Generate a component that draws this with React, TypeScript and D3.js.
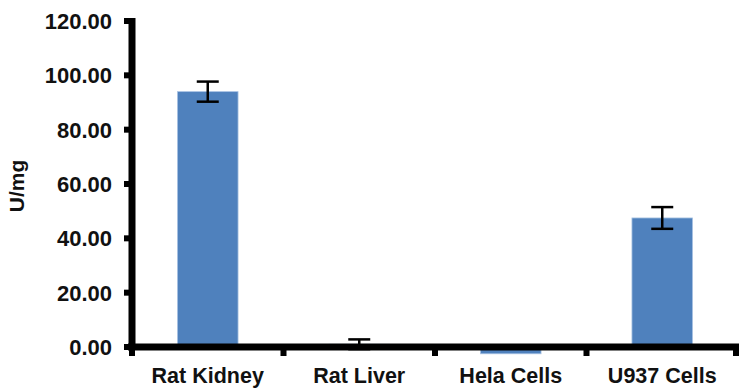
import React from "react";
import { scaleBand, scaleLinear } from "d3";

// values
const categories = ["Rat Kidney", "Rat Liver", "Hela Cells", "U937 Cells"];
const values = [94.0, 1.0, -2.5, 47.5];
const errors = [3.7, 1.8, 0, 4.0];
const yTicks = [0, 20, 40, 60, 80, 100, 120];

const width = 739;
const height = 390;
const margins = { top: 21, right: 1, bottom: 43, left: 132 };
const axisW = 7;

const App = () => {
    const innerBottom = height - margins.bottom;

    const x = scaleBand<string>()
        .domain(categories)
        .range([margins.left, width - margins.right])
        .paddingInner(0.6)
        .paddingOuter(0.3);

    const y = scaleLinear()
        .domain([0, 120])
        .range([innerBottom, margins.top]);

    const gap = (x.step() - x.bandwidth()) / 2;
    const boundaries = categories.map(c => (x(c) as number) - gap);
    boundaries.push((x(categories[categories.length - 1]) as number) + x.bandwidth() + gap);

    const font = "'Liberation Sans', Arial, sans-serif";

    return (
        <svg width={width} height={height} style={{ position: "absolute", left: 0, top: 0 }}>
            <rect width={width} height={height} fill="white" />

            {/* bars */}
            {categories.map((c, i) => {
                const v = values[i];
                const y0 = y(Math.max(0, v));
                const y1 = y(Math.min(0, v));
                return (
                    <rect key={c}
                          x={x(c)}
                          y={y0}
                          width={x.bandwidth()}
                          height={y1 - y0}
                          fill="#4f81bd"
                          stroke="#a9c3e3"
                          strokeWidth={0.8} />
                );
            })}

            {/* error bars */}
            {categories.map((c, i) => {
                if (!errors[i]) return null;
                const cx = (x(c) as number) + x.bandwidth() / 2;
                const top = y(values[i] + errors[i]);
                const bot = y(values[i] - errors[i]);
                return (
                    <g key={"err" + c} stroke="black" strokeWidth={2.5}>
                        <line x1={cx} x2={cx} y1={top} y2={bot} />
                        <line x1={cx - 11} x2={cx + 11} y1={top} y2={top} />
                        <line x1={cx - 11} x2={cx + 11} y1={bot} y2={bot} />
                    </g>
                );
            })}

            {/* y axis */}
            <rect x={margins.left - axisW / 2} y={margins.top - 3}
                  width={axisW} height={innerBottom - margins.top + 6} fill="black" />
            {yTicks.map(t => (
                <g key={t}>
                    <rect x={margins.left - 8} y={y(t) - 3} width={8} height={6} fill="black" />
                    <text x={margins.left - 20} y={y(t)} dy="0.36em" textAnchor="end"
                          fontFamily={font} fontWeight="bold" fontSize={22} fill="#111">
                        {t.toFixed(2)}
                    </text>
                </g>
            ))}

            {/* x axis */}
            <rect x={margins.left - 4} y={innerBottom - axisW / 2}
                  width={width - margins.left + 4} height={axisW} fill="black" />
            {boundaries.map((b, i) => (
                <rect key={"b" + i} x={Math.min(b, width - 3) - 3} y={innerBottom}
                      width={6} height={9} fill="black" />
            ))}
            {categories.map(c => (
                <text key={"l" + c} x={(x(c) as number) + x.bandwidth() / 2} y={383}
                      textAnchor="middle" fontFamily={font} fontWeight="bold" fontSize={21.5} fill="#111">
                    {c}
                </text>
            ))}

            {/* axis title */}
            <text transform={`translate(24, ${(margins.top + innerBottom) / 2 + 2}) rotate(-90)`}
                  textAnchor="middle" fontFamily={font} fontWeight="bold" fontSize={21} fill="#111">
                U/mg
            </text>
        </svg>
    );
};

export default App;
